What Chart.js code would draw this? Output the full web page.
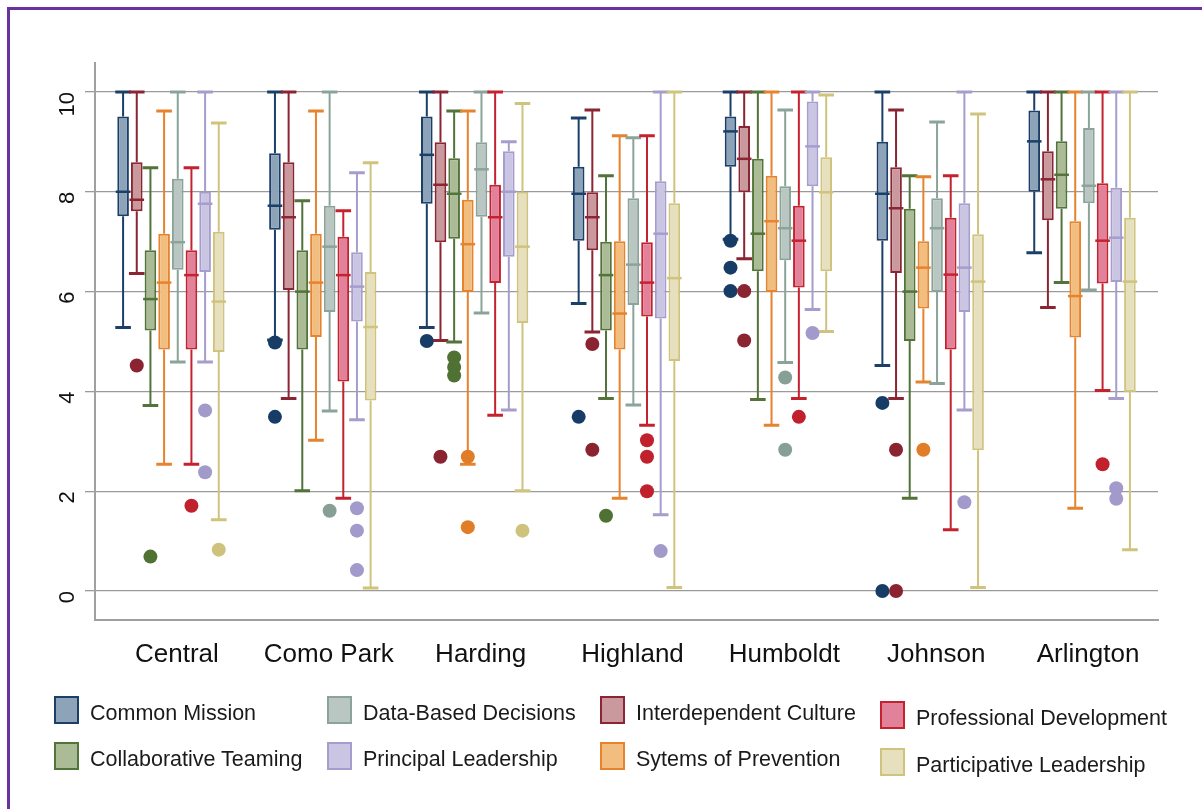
<!DOCTYPE html>
<html>
<head>
<meta charset="utf-8">
<script src="https://cdn.jsdelivr.net/npm/chart.js@4.4.1/dist/chart.umd.min.js"></script>
<style>
  html, body { margin: 0; padding: 0; background: #fff; width: 1202px; height: 809px; overflow: hidden; font-family: "Liberation Sans", Arial, sans-serif; }
  #frame { position: absolute; left: 7px; top: 7px; width: 1300px; height: 900px; border-left: 3px solid #6a31a0; border-top: 3px solid #6a31a0; }
  #c { position: absolute; left: 0; top: 0; }
  .leg { position: absolute; display: flex; align-items: center; font-size: 21.5px; color: #1a1a1a; white-space: nowrap; }
  .sw { width: 25px; height: 28px; border: 2px solid; box-sizing: border-box; margin-right: 11px; }
  .leg span { padding-top: 8px; }
</style>
</head>
<body>
<div id="frame"></div>
<canvas id="c" width="1202" height="809"></canvas>
<div id="legend"></div>
<script>
const schools = ['Central', 'Como Park', 'Harding', 'Highland', 'Humboldt', 'Johnson', 'Arlington'];
const seriesNames = ['Common Mission', 'Interdependent Culture', 'Collaborative Teaming', 'Sytems of Prevention',
  'Data-Based Decisions', 'Professional Development', 'Principal Leadership', 'Participative Leadership'];
const yTicks = [0, 2, 4, 6, 8, 10];

// each row: [lower whisker, q1, median, q3, upper whisker], one row per school
const commonMission = [[5.28, 7.51, 8.0, 9.51, 10], [5.03, 7.24, 7.72, 8.77, 10], [5.28, 7.76, 8.74, 9.51, 10], [5.76, 7.02, 7.96, 8.5, 9.48], [7.05, 8.5, 9.21, 9.51, 10], [4.52, 7.02, 7.96, 9.0, 10], [6.78, 8.0, 9.01, 9.63, 10]];
const interdependentCulture = [[6.36, 7.61, 7.84, 8.59, 10], [3.86, 6.03, 7.49, 8.59, 10], [5.02, 6.99, 8.14, 8.99, 10], [5.19, 6.83, 7.49, 7.99, 9.64], [6.66, 7.99, 8.66, 9.32, 10], [3.86, 6.37, 7.67, 8.49, 9.64], [5.68, 7.43, 8.25, 8.81, 10]];
const collaborativeTeaming = [[3.72, 5.22, 5.85, 6.83, 8.48], [2.01, 4.84, 6.0, 6.83, 7.82], [4.99, 7.06, 7.96, 8.67, 9.62], [3.86, 5.22, 6.33, 7.0, 8.32], [3.84, 6.41, 7.16, 8.66, 10], [1.86, 5.01, 6.0, 7.66, 8.32], [6.18, 7.66, 8.34, 9.01, 10]];
const systemsPrevention = [[2.54, 4.84, 6.18, 7.16, 9.62], [3.02, 5.09, 6.18, 7.16, 9.62], [2.54, 5.99, 6.95, 7.84, 9.62], [1.86, 4.84, 5.56, 7.01, 9.12], [3.32, 5.99, 7.41, 8.32, 10], [4.19, 5.66, 6.48, 7.01, 8.3], [1.66, 5.08, 5.91, 7.41, 10]];
const dataDecisions = [[4.59, 6.44, 6.99, 8.26, 10], [3.61, 5.59, 6.9, 7.72, 10], [5.57, 7.5, 8.45, 8.99, 10], [3.73, 5.73, 6.54, 7.87, 9.08], [4.58, 6.63, 7.27, 8.11, 9.64], [4.16, 5.99, 7.27, 7.87, 9.4], [6.03, 7.77, 8.12, 9.28, 10]];
const professionalDev = [[2.54, 4.84, 6.33, 6.83, 8.48], [1.86, 4.2, 6.33, 7.1, 7.62], [3.52, 6.17, 7.49, 8.14, 10], [3.32, 5.5, 6.18, 6.99, 9.12], [3.86, 6.08, 7.02, 7.72, 10], [1.23, 4.84, 6.34, 7.48, 8.32], [4.02, 6.16, 7.02, 8.17, 10]];
const principalLeadership = [[4.59, 6.39, 7.76, 8.0, 10], [3.43, 5.4, 6.1, 6.79, 8.38], [3.63, 6.7, 8.0, 8.81, 9.0], [1.53, 5.46, 7.16, 8.21, 10], [5.64, 8.11, 8.91, 9.81, 10], [3.63, 5.59, 6.48, 7.77, 10], [3.86, 6.19, 7.08, 8.08, 10]];
const participativeLeadership = [[1.43, 4.79, 5.8, 7.2, 9.38], [0.06, 3.82, 5.29, 6.39, 8.58], [2.01, 5.37, 6.9, 8.0, 9.77], [0.07, 4.61, 6.27, 7.77, 10], [5.2, 6.41, 7.99, 8.69, 9.94], [0.07, 2.82, 6.2, 7.15, 9.56], [0.83, 3.99, 6.2, 7.48, 10]];

// outside values per school
const commonMissionOut = [[], [4.98, 3.49], [5.01], [3.49], [7.02, 6.48, 6.01], [3.77, 0], []];
const interdependentCultureOut = [[4.52], [], [2.69], [4.95, 2.83], [6.01, 5.02], [2.83, 0], []];
const collaborativeTeamingOut = [[0.69], [], [4.68, 4.49, 4.32], [1.51], [], [], []];
const systemsPreventionOut = [[], [], [2.69, 1.28], [], [], [2.83], []];
const dataDecisionsOut = [[], [1.61], [], [], [4.28, 2.83], [], []];
const professionalDevOut = [[1.71], [], [], [3.02, 2.69, 2.0], [3.49], [], [2.54]];
const principalLeadershipOut = [[3.62, 2.38], [1.66, 1.21, 0.42], [], [0.8], [5.17], [1.78], [2.06, 1.85]];
const participativeLeadershipOut = [[0.83], [], [1.21], [], [], [], []];

const series = [commonMission, interdependentCulture, collaborativeTeaming, systemsPrevention, dataDecisions, professionalDev, principalLeadership, participativeLeadership];
const outliers = [commonMissionOut, interdependentCultureOut, collaborativeTeamingOut, systemsPreventionOut, dataDecisionsOut, professionalDevOut, principalLeadershipOut, participativeLeadershipOut];

const lineColors = ['#1b3f69', '#8c2533', '#52733a', '#e6832e', '#8ba49a', '#c4222f', '#a69dcc', '#d0c37e'];
const fillColors = ['#8ca3b8', '#c9999e', '#aabb96', '#f1be80', '#b9c6c1', '#e1829a', '#cac5e2', '#e6e0bf'];
const dotColors = ['#173c66', '#8a2430', '#4f7133', '#e07d26', '#87a096', '#c0212d', '#a29acb', '#cec27c'];

const boxPlugin = {
  id: 'boxParts',
  beforeDatasetsDraw(chart) {
    const { ctx, scales: { y } } = chart;
    ctx.save();
    series.forEach((rows, i) => {
      const meta = chart.getDatasetMeta(i);
      ctx.strokeStyle = lineColors[i];
      meta.data.forEach((bar, j) => {
        const r = rows[j];
        const x = bar.x, half = bar.width / 2 + 2;
        ctx.lineWidth = 2;
        ctx.beginPath();
        ctx.moveTo(x, y.getPixelForValue(r[4])); ctx.lineTo(x, y.getPixelForValue(r[3]));
        ctx.moveTo(x, y.getPixelForValue(r[1])); ctx.lineTo(x, y.getPixelForValue(r[0]));
        ctx.stroke();
        ctx.lineWidth = 3;
        ctx.beginPath();
        [r[0], r[4]].forEach(v => {
          const py = y.getPixelForValue(v);
          ctx.moveTo(x - half, py); ctx.lineTo(x + half, py);
        });
        ctx.stroke();
      });
    });
    ctx.restore();
  },
  afterDatasetsDraw(chart) {
    const { ctx, scales: { y } } = chart;
    ctx.save();
    series.forEach((rows, i) => {
      const meta = chart.getDatasetMeta(i);
      meta.data.forEach((bar, j) => {
        const x = bar.x, half = bar.width / 2 + 1.5;
        const py = y.getPixelForValue(rows[j][2]);
        ctx.strokeStyle = lineColors[i];
        ctx.lineWidth = 2.5;
        ctx.beginPath(); ctx.moveTo(x - half, py); ctx.lineTo(x + half, py); ctx.stroke();
        ctx.fillStyle = dotColors[i];
        outliers[i][j].forEach(v => {
          ctx.beginPath();
          ctx.arc(x, y.getPixelForValue(v), 7, 0, Math.PI * 2);
          ctx.fill();
        });
      });
    });
    ctx.restore();
  }
};

new Chart(document.getElementById('c'), {
  type: 'bar',
  data: {
    labels: schools,
    datasets: series.map((rows, i) => ({
      label: seriesNames[i],
      data: rows.map(r => [r[1], r[3]]),
      backgroundColor: fillColors[i],
      borderColor: lineColors[i],
      borderWidth: 2,
      borderSkipped: false,
      barPercentage: 0.85,
      categoryPercentage: 0.72
    }))
  },
  options: {
    responsive: false,
    animation: false,
    layout: { padding: { top: 63, right: 44, bottom: 129, left: 0 } },
    plugins: { legend: { display: false }, tooltip: { enabled: false } },
    scales: {
      x: {
        grid: { display: false },
        border: { display: true, color: '#a0a0a0', width: 2 },
        ticks: { font: { family: 'Liberation Sans', size: 26 }, color: '#111', padding: 11, labelOffset: 6, maxRotation: 0 },
        afterFit: s => { s.height = 60; }
      },
      y: {
        min: -0.58, max: 10.58,
        afterBuildTicks: s => { s.ticks = yTicks.map(v => ({ value: v })); },
        grid: { color: '#9a9a9a', lineWidth: 1.3, tickLength: 10 },
        border: { display: true, color: '#a0a0a0', width: 2 },
        ticks: { font: { family: 'Liberation Sans', size: 22 }, color: '#111', minRotation: 90, maxRotation: 90, padding: 17 },
        afterFit: s => { s.width = 95; }
      }
    }
  },
  plugins: [boxPlugin]
});

// legend: two rows, four columns
const legendOrder = [0, 2, 4, 6, 1, 3, 5, 7];
const legendCols = [54, 327, 600, 880];
const legendRows = [[693, 739], [693, 739], [693, 739], [698, 745]];
document.getElementById('legend').innerHTML = legendOrder.map((s, k) => {
  const col = Math.floor(k / 2), row = k % 2;
  return `<div class="leg" style="left:${legendCols[col]}px;top:${legendRows[col][row]}px">
    <div class="sw" style="background:${fillColors[s]};border-color:${lineColors[s]}"></div><span>${seriesNames[s]}</span></div>`;
}).join('');
</script>
</body>
</html>
